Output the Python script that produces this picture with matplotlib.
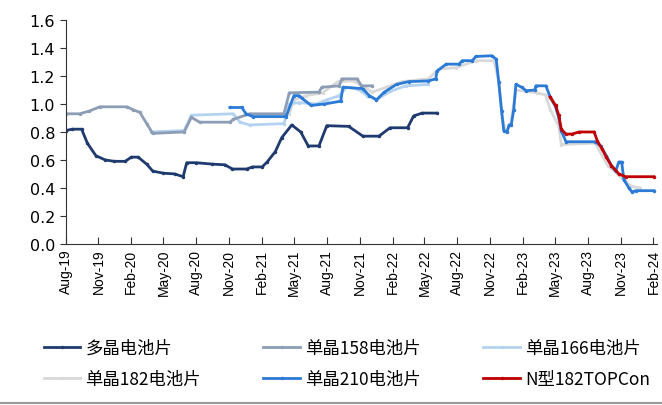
import numpy as np
import pandas as pd
import matplotlib
matplotlib.use("Agg")
import matplotlib.pyplot as plt
from matplotlib.lines import Line2D

# price series (yuan/W)
poly_dates = ["2019-08-01", "2019-08-20", "2019-09-15", "2019-10-01", "2019-10-25", "2019-11-20",
              "2019-12-15", "2020-01-15", "2020-02-01", "2020-02-20", "2020-03-15", "2020-04-01",
              "2020-05-01", "2020-06-01", "2020-06-25", "2020-07-05", "2020-08-01", "2020-09-15",
              "2020-10-20", "2020-11-10", "2020-12-20", "2021-01-05", "2021-02-01", "2021-02-15",
              "2021-03-10", "2021-03-28", "2021-04-25", "2021-05-20", "2021-06-10", "2021-07-10",
              "2021-08-01", "2021-10-01", "2021-11-10", "2021-12-25", "2022-01-25", "2022-03-15",
              "2022-04-01", "2022-04-25", "2022-06-05"]
poly_vals = [0.81, 0.82, 0.82, 0.72, 0.63, 0.60,
             0.59, 0.59, 0.62, 0.62, 0.57, 0.52,
             0.505, 0.50, 0.48, 0.58, 0.58, 0.57,
             0.565, 0.535, 0.535, 0.55, 0.55, 0.585,
             0.66, 0.76, 0.85, 0.80, 0.70, 0.70,
             0.845, 0.84, 0.77, 0.77, 0.83, 0.83,
             0.915, 0.935, 0.935]

m158_dates = ["2019-08-01", "2019-09-10", "2019-10-07", "2019-11-05", "2020-01-20", "2020-02-05",
              "2020-02-25", "2020-03-15", "2020-04-01", "2020-06-28", "2020-07-18", "2020-08-10",
              "2020-11-03", "2020-11-12", "2020-12-28", "2021-04-03", "2021-04-18", "2021-07-10",
              "2021-07-18", "2021-09-05", "2021-09-12", "2021-10-25", "2021-11-06", "2021-12-06"]
m158_vals = [0.93, 0.93, 0.95, 0.98, 0.98, 0.96,
             0.94, 0.86, 0.79, 0.80, 0.905, 0.87,
             0.87, 0.89, 0.93, 0.93, 1.08, 1.085,
             1.12, 1.13, 1.18, 1.18, 1.13, 1.13]

m166_dates = ["2020-03-28", "2020-06-28", "2020-07-18", "2020-11-12", "2020-12-01", "2020-12-28",
              "2021-04-03", "2021-04-18", "2021-05-15", "2021-07-03", "2021-08-01", "2021-09-05",
              "2021-09-25", "2021-10-25", "2021-11-22", "2021-12-18", "2022-01-25", "2022-03-10",
              "2022-05-12"]
m166_vals = [0.80, 0.81, 0.92, 0.93, 0.87, 0.85,
             0.86, 1.00, 1.01, 1.00, 1.03, 1.06,
             1.12, 1.11, 1.06, 1.03, 1.09, 1.13,
             1.14]

m182_dates = ["2021-04-18", "2021-05-01", "2021-06-05", "2021-07-20", "2021-09-01", "2021-10-15",
              "2021-11-20", "2021-12-06", "2022-01-15", "2022-02-28", "2022-05-12", "2022-06-10",
              "2022-07-28", "2022-09-22", "2022-11-12", "2022-11-25", "2022-12-05", "2022-12-15",
              "2022-12-28", "2023-01-12", "2023-03-12", "2023-04-05", "2023-04-18", "2023-05-12",
              "2023-05-19", "2023-08-22", "2023-09-26", "2023-10-27", "2023-11-15", "2023-12-03",
              "2023-12-24"]
m182_vals = [0.93, 1.03, 1.06, 1.08, 1.16, 1.165,
             1.11, 1.085, 1.12, 1.16, 1.18, 1.25,
             1.26, 1.31, 1.31, 1.16, 0.90, 0.80,
             0.85, 1.10, 1.08, 1.065, 0.96, 0.84,
             0.71, 0.72, 0.56, 0.49, 0.44, 0.41,
             0.40]

m210_dates = ["2020-11-03", "2020-12-06", "2020-12-18", "2021-01-06", "2021-04-09", "2021-05-01",
              "2021-05-15", "2021-05-24", "2021-06-18", "2021-07-25", "2021-09-09", "2021-09-15",
              "2021-11-09", "2021-11-28", "2021-12-18", "2022-01-09", "2022-02-12", "2022-03-18",
              "2022-05-12", "2022-06-02", "2022-06-05", "2022-07-01", "2022-08-06", "2022-08-15",
              "2022-09-12", "2022-09-22", "2022-11-06", "2022-11-18", "2022-11-25", "2022-12-03",
              "2022-12-09", "2022-12-18", "2022-12-24", "2022-12-30", "2023-01-06", "2023-01-12",
              "2023-01-28", "2023-02-10", "2023-03-06", "2023-03-09", "2023-04-06", "2023-04-18",
              "2023-05-03", "2023-05-12", "2023-05-19", "2023-06-01", "2023-08-22", "2023-09-06",
              "2023-09-22", "2023-10-06", "2023-10-18", "2023-10-27", "2023-11-04", "2023-11-10",
              "2023-11-24", "2023-12-03", "2023-12-13", "2024-02-02"]
m210_vals = [0.975, 0.975, 0.93, 0.91, 0.91, 1.06,
             1.06, 1.04, 0.99, 1.00, 1.02, 1.12,
             1.11, 1.06, 1.03, 1.085, 1.14, 1.16,
             1.165, 1.18, 1.235, 1.285, 1.285, 1.31,
             1.31, 1.34, 1.345, 1.32, 1.16, 0.95,
             0.81, 0.80, 0.85, 0.85, 0.96, 1.14,
             1.12, 1.095, 1.10, 1.13, 1.13, 1.05,
             0.98, 0.90, 0.81, 0.73, 0.73, 0.70,
             0.63, 0.56, 0.52, 0.585, 0.585, 0.46,
             0.40, 0.37, 0.38, 0.38]

topcon_dates = ["2023-04-18", "2023-05-03", "2023-05-12", "2023-05-19", "2023-06-01", "2023-06-18",
                "2023-07-08", "2023-08-19", "2023-08-28", "2023-09-10", "2023-09-22", "2023-10-06",
                "2023-10-27", "2023-11-15", "2024-02-02"]
topcon_vals = [1.05, 0.99, 0.92, 0.82, 0.785, 0.785,
               0.80, 0.80, 0.735, 0.68, 0.62, 0.56,
               0.50, 0.48, 0.48]

series = [
    ("单晶182电池片", m182_dates, m182_vals, "#D9D9D9"),
    ("单晶166电池片", m166_dates, m166_vals, "#B4D3F0"),
    ("单晶158电池片", m158_dates, m158_vals, "#8C9DB5"),
    ("多晶电池片", poly_dates, poly_vals, "#1F3A6E"),
    ("单晶210电池片", m210_dates, m210_vals, "#2B7BD6"),
    ("N型182TOPCon", topcon_dates, topcon_vals, "#C00000"),
]
# legend is filled column by column: rows read 多晶/158/166 then 182/210/TOPCon
legend_order = ["多晶电池片", "单晶182电池片", "单晶158电池片",
                "单晶210电池片", "单晶166电池片", "N型182TOPCon"]

fig = plt.figure(figsize=(6.62, 4.06), dpi=100)
ax = fig.add_axes([0.099, 0.397, 0.893, 0.551])

handles = {}
for name, d, v, c in series:
    ln, = ax.plot(pd.to_datetime(d), v, color=c, lw=2.0, marker="o", ms=2.5,
                  markeredgewidth=0, label=name)
    handles[name] = ln

ax.set_ylim(0, 1.6)
ax.set_yticks(np.arange(0, 1.61, 0.2))
ax.set_yticklabels([f"{t:.1f}" for t in np.arange(0, 1.61, 0.2)], fontsize=11.5)
ax.set_xlim(pd.Timestamp("2019-08-01"), pd.Timestamp("2024-02-10"))
xt = pd.date_range("2019-08-01", "2024-02-01", freq="3MS")
ax.set_xticks(xt)
ax.set_xticklabels([t.strftime("%b-%y") for t in xt], rotation=90,
                   fontsize=10, family="Liberation Sans")
ax.tick_params(axis="x", direction="in", length=5, color="#333333")
ax.tick_params(axis="y", direction="out", length=4, color="#333333")
for s in ["top", "right"]:
    ax.spines[s].set_visible(False)
for s in ["left", "bottom"]:
    ax.spines[s].set_color("#333333")

fig.legend([handles[n] for n in legend_order], legend_order, ncol=3,
           loc="upper left", bbox_to_anchor=(0.066, 0.163), frameon=False,
           prop={"family": ["Noto Sans CJK SC", "DejaVu Sans"], "size": 12.5},
           handlelength=2.1, handletextpad=0.3, columnspacing=3.6,
           labelspacing=0.75, borderpad=0, borderaxespad=0)

fig.add_artist(Line2D([0, 1], [0.004, 0.004], color="#999999", lw=1.5,
                      transform=fig.transFigure))

fig.savefig("out.png", dpi=100)
